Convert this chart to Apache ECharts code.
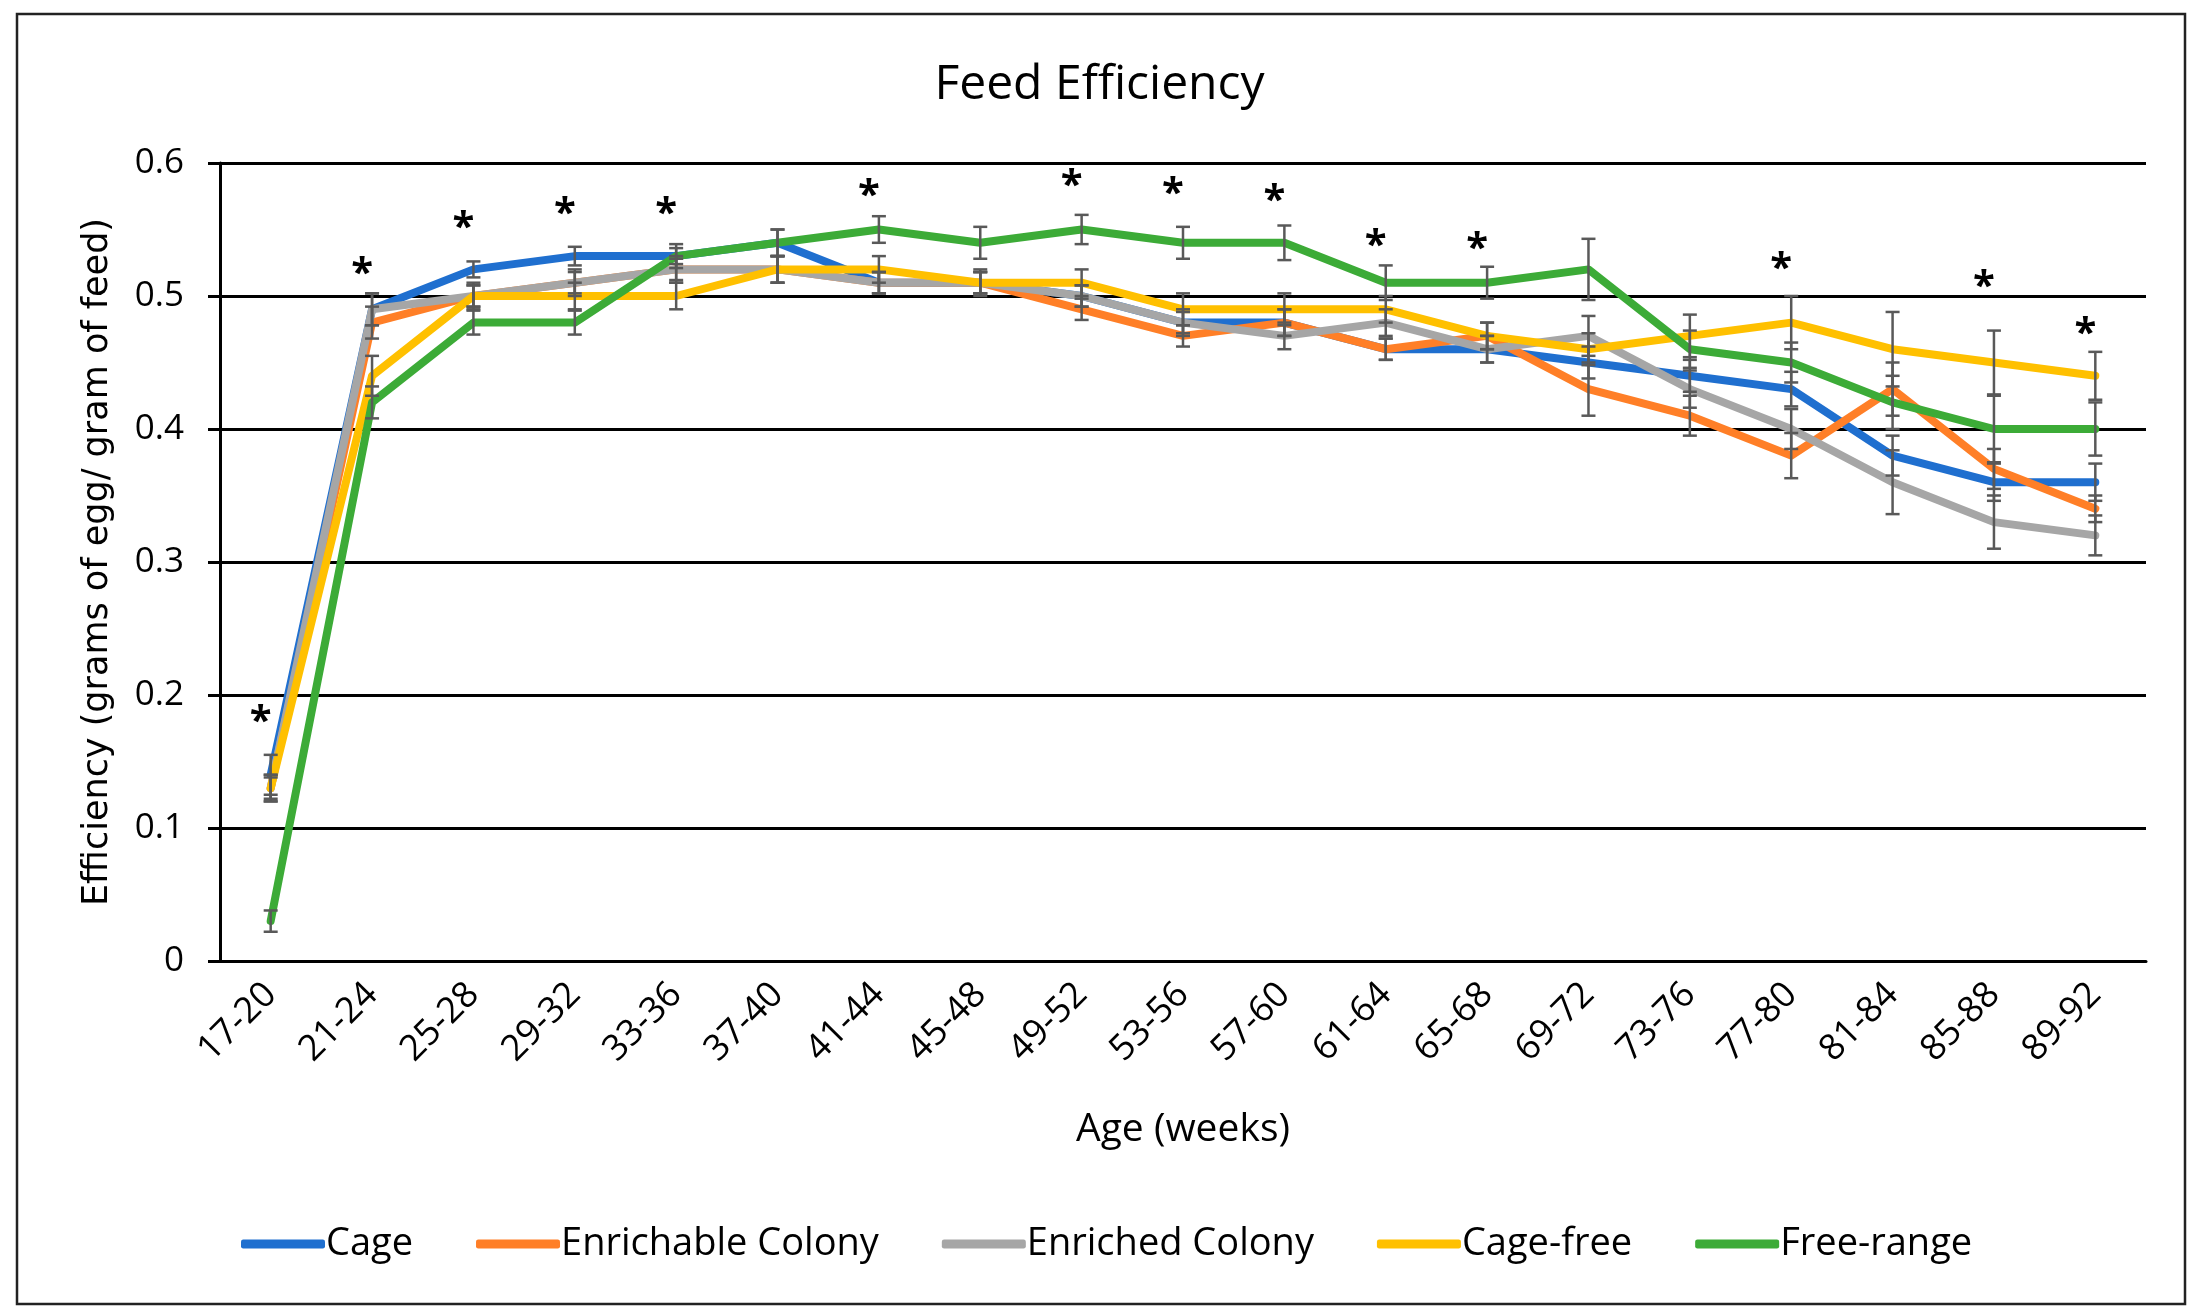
<!DOCTYPE html>
<html>
<head>
<meta charset="utf-8">
<script src="https://cdn.jsdelivr.net/npm/echarts@6/dist/echarts.min.js"></script>
<style>
html,body{margin:0;padding:0;background:#fff;}
#chart{width:2199px;height:1314px;}
</style>
</head>
<body>
<div id="chart"></div>
<script>
const categories = ['17-20','21-24','25-28','29-32','33-36','37-40','41-44','45-48','49-52','53-56','57-60','61-64','65-68','69-72','73-76','77-80','81-84','85-88','89-92'];
const yTicks = [0, 0.1, 0.2, 0.3, 0.4, 0.5, 0.6];

const cage        = [0.14,0.49,0.52,0.53,0.53,0.54,0.51,0.51,0.50,0.48,0.48,0.46,0.46,0.45,0.44,0.43,0.38,0.36,0.36];
const enrichable  = [0.13,0.48,0.50,0.51,0.52,0.52,0.51,0.51,0.49,0.47,0.48,0.46,0.47,0.43,0.41,0.38,0.43,0.37,0.34];
const enriched    = [0.13,0.49,0.50,0.51,0.52,0.52,0.51,0.51,0.50,0.48,0.47,0.48,0.46,0.47,0.43,0.40,0.36,0.33,0.32];
const cageFree    = [0.13,0.44,0.50,0.50,0.50,0.52,0.52,0.51,0.51,0.49,0.49,0.49,0.47,0.46,0.47,0.48,0.46,0.45,0.44];
const freeRange   = [0.03,0.42,0.48,0.48,0.53,0.54,0.55,0.54,0.55,0.54,0.54,0.51,0.51,0.52,0.46,0.45,0.42,0.40,0.40];

const cageErr       = [0.015,0.012,0.006,0.007,0.006,0.010,0.008,0.008,0.008,0.010,0.010,0.008,0.010,0.012,0.012,0.013,0.015,0.014,0.014];
const enrichableErr = [0.010,0.012,0.008,0.010,0.010,0.010,0.008,0.008,0.008,0.008,0.010,0.008,0.010,0.020,0.015,0.017,0.020,0.015,0.010];
const enrichedErr   = [0.010,0.012,0.008,0.008,0.008,0.010,0.008,0.008,0.008,0.008,0.010,0.010,0.010,0.015,0.014,0.015,0.024,0.020,0.015];
const cageFreeErr   = [0.008,0.015,0.010,0.010,0.010,0.010,0.010,0.010,0.010,0.012,0.012,0.010,0.010,0.012,0.016,0.020,0.028,0.024,0.018];
const freeRangeErr  = [0.008,0.012,0.009,0.009,0.009,0.010,0.010,0.012,0.011,0.012,0.013,0.013,0.012,0.023,0.014,0.015,0.020,0.025,0.020];

// significance asterisks: category label and height (value units)
const sigCats   = ['17-20','21-24','25-28','29-32','33-36','41-44','49-52','53-56','57-60','61-64','65-68','77-80','85-88','89-92'];
const sigHeight = [0.185,0.522,0.557,0.567,0.567,0.581,0.588,0.582,0.577,0.543,0.541,0.526,0.512,0.477];

const seriesNames = ['Cage','Enrichable Colony','Enriched Colony','Cage-free','Free-range'];
const seriesVals  = [cage, enrichable, enriched, cageFree, freeRange];
const seriesErrs  = [cageErr, enrichableErr, enrichedErr, cageFreeErr, freeRangeErr];
const colors      = ['#1F6FCF','#FF7F27','#A6A6A6','#FFC000','#3CAB37'];

const chart = echarts.init(document.getElementById('chart'), null, {renderer:'canvas'});

const series = [];
seriesNames.forEach((n, k) => {
  series.push({
    name: n, type: 'line', data: seriesVals[k], symbol: 'none', z: 2 + k,
    lineStyle: {color: colors[k], width: 8, cap: 'round', join: 'round'},
    itemStyle: {color: colors[k]}
  });
});
seriesNames.forEach((n, k) => {
  series.push({
    type: 'custom', z: 10,
    data: seriesVals[k].map((v, i) => [i, v, seriesErrs[k][i]]),
    renderItem: function (params, api) {
      const i = api.value(0), v = api.value(1), e = api.value(2);
      const top = api.coord([i, v + e]);
      const bot = api.coord([i, v - e]);
      const w = 7;
      const st = {stroke: '#595959', lineWidth: 2.5};
      return {type: 'group', children: [
        {type: 'line', shape: {x1: top[0], y1: top[1], x2: bot[0], y2: bot[1]}, style: st},
        {type: 'line', shape: {x1: top[0]-w, y1: top[1], x2: top[0]+w, y2: top[1]}, style: st},
        {type: 'line', shape: {x1: bot[0]-w, y1: bot[1], x2: bot[0]+w, y2: bot[1]}, style: st}
      ]};
    },
    silent: true
  });
});
series.push({
  type: 'custom', z: 12,
  data: sigCats.map((c, j) => [categories.indexOf(c), sigHeight[j]]),
  renderItem: function (params, api) {
    const p = api.coord([api.value(0), api.value(1)]);
    return {type: 'text', x: p[0] - 10, y: p[1] + 8,
      style: {text: '*', fontSize: 40, fontWeight: 'bold', fontFamily: 'Open Sans', fill: '#000', align: 'center', verticalAlign: 'middle'}};
  },
  silent: true
});

const option = {
  animation: false,
  backgroundColor: '#fff',
  title: {
    text: 'Feed Efficiency', left: 'center', top: 56,
    textStyle: {fontFamily: 'Open Sans', fontSize: 48, fontWeight: 'normal', color: '#000'}
  },
  legend: {
    data: seriesNames, left: 236, top: 1220, itemGap: 63,
    icon: 'roundRect', itemWidth: 84, itemHeight: 9,
    textStyle: {fontFamily: 'Open Sans', fontSize: 38, color: '#000', padding: [0,0,0,-4]}
  },
  grid: {left: 220, right: 53, top: 163, bottom: 353, containLabel: false},
  xAxis: {
    type: 'category', data: categories, boundaryGap: true,
    name: 'Age (weeks)', nameLocation: 'middle', nameGap: 149,
    nameTextStyle: {fontFamily: 'Open Sans', fontSize: 39, color: '#000'},
    axisLine: {lineStyle: {color: '#000', width: 3}},
    axisTick: {show: false},
    axisLabel: {interval: 0, rotate: 45, margin: 28, fontFamily: 'Open Sans', fontSize: 36, color: '#000'}
  },
  yAxis: {
    type: 'value', min: 0, max: 0.6, interval: 0.1,
    name: 'Efficiency (grams of egg/ gram of feed)', nameLocation: 'middle', nameGap: 105,
    nameTextStyle: {fontFamily: 'DejaVu Sans', fontSize: 35, color: '#000'},
    axisLine: {show: true, lineStyle: {color: '#000', width: 3}},
    axisTick: {show: true, length: 12, inside: false, lineStyle: {color: '#000', width: 3}},
    splitLine: {show: true, lineStyle: {color: '#000', width: 3}},
    axisLabel: {margin: 36, fontFamily: 'Open Sans', fontSize: 35, color: '#000',
      formatter: function (v) { const t = yTicks.find(x => Math.abs(x - v) < 1e-9); return String(t !== undefined ? t : v); }}
  },
  graphic: [{
    type: 'rect', shape: {x: 17, y: 14, width: 2168, height: 1290},
    style: {fill: 'none', stroke: '#222', lineWidth: 2.5}, z: -1, silent: true
  }],
  series: series
};
chart.setOption(option);
</script>
</body>
</html>
